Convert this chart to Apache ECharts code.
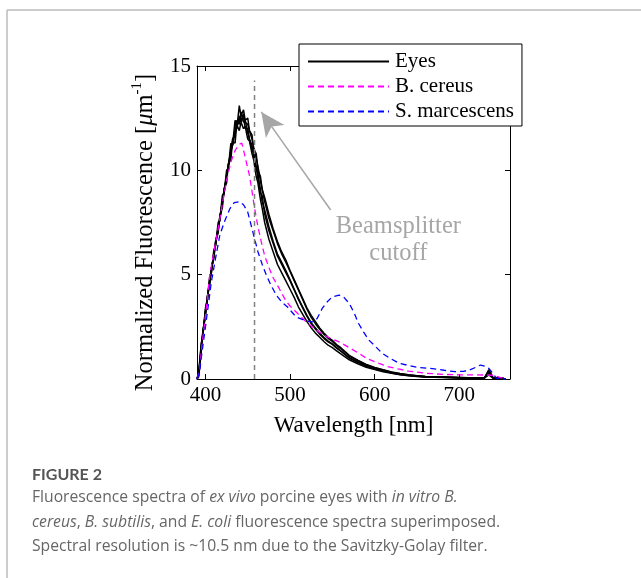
<!DOCTYPE html>
<html>
<head>
<meta charset="utf-8">
<script src="https://cdn.jsdelivr.net/npm/echarts@6/dist/echarts.min.js"></script>
<style>
  html, body { margin: 0; padding: 0; background: #fff; }
  #chart { width: 641px; height: 578px; }
</style>
</head>
<body>
<div id="chart"></div>
<script>
// wavelength grid for the eye spectra [nm]
const eyeWl = [390,392,395,397,400,402,405,407,410,412,415,417,420,422,425,427,430,432,435,437,440,442,445,447,450,452,455,457,460,462,465,467,470,475,480,485,490,495,500,505,510,515,520,525,530,535,540,545,550,555,560,570,580,590,600,610,620,630,640,650,660,670,680,690,700,710,720,730,735,740,750,755];
// five porcine eyes
const eyeA = [0,0.3,1.7,2.1,3.4,3.7,4.9,5.1,6.2,6.4,7.5,7.6,8.8,8.9,10.0,10.1,11.3,11.2,12.4,12.0,13.1,12.6,12.9,12.4,12.5,11.9,11.7,11.0,10.8,10.0,9.7,9.1,8.7,7.9,7.2,6.6,6.1,5.7,5.2,4.75,4.3,3.85,3.4,3.05,2.75,2.45,2.2,2.0,1.85,1.65,1.5,1.13,0.9,0.7,0.55,0.44,0.34,0.26,0.2,0.16,0.12,0.1,0.09,0.08,0.07,0.06,0.06,0.07,0.45,0.06,0.05,0];
const eyeB = [0,0.1,1.3,2.3,3.0,3.9,4.5,5.3,5.8,6.6,7.0,7.8,8.2,9.1,9.4,10.3,10.5,11.4,11.3,12.2,11.9,12.3,12.0,12.1,11.5,11.4,10.8,10.5,9.7,9.4,8.6,8.2,7.5,6.7,6.1,5.5,5.1,4.7,4.3,3.9,3.45,3.1,2.75,2.45,2.2,2.0,1.8,1.62,1.5,1.35,1.2,0.92,0.73,0.56,0.45,0.35,0.27,0.2,0.16,0.12,0.1,0.08,0.07,0.06,0.05,0.04,0.04,0.05,0.2,0.04,0.03,0];
const eyeC = [0,0.2,1.6,2.3,3.1,3.9,4.6,5.3,5.9,6.6,7.1,7.8,8.4,9.1,9.6,10.3,10.8,11.5,11.7,12.4,12.2,12.8,12.3,12.4,11.8,11.8,11.0,10.9,10.0,9.9,8.9,8.8,7.9,7.1,6.5,5.9,5.5,5.1,4.7,4.25,3.8,3.4,3.0,2.65,2.4,2.15,1.95,1.78,1.66,1.48,1.33,1.0,0.8,0.62,0.49,0.39,0.29,0.22,0.17,0.13,0.1,0.09,0.08,0.07,0.06,0.05,0.05,0.06,0.35,0.05,0.04,0];
const eyeD = [0,0.3,1.4,2.1,3.3,3.7,4.8,5.1,6.1,6.4,7.3,7.6,8.6,8.9,9.8,10.1,11.0,11.2,11.9,12.0,12.6,12.4,12.7,12.3,12.2,11.9,11.5,11.1,10.6,10.2,9.5,9.1,8.5,7.7,7.1,6.5,6.0,5.6,5.15,4.7,4.25,3.8,3.35,2.95,2.65,2.38,2.15,1.95,1.8,1.6,1.45,1.1,0.88,0.68,0.54,0.43,0.32,0.25,0.19,0.15,0.12,0.1,0.09,0.08,0.07,0.06,0.06,0.07,0.4,0.05,0.04,0];
const eyeE = [0,0.2,1.5,2.2,3.2,3.8,4.7,5.2,6.0,6.5,7.2,7.7,8.5,9.0,9.7,10.2,10.9,11.2,11.9,11.9,12.5,12.3,12.6,12.0,12.0,11.5,11.2,10.6,10.2,9.6,9.1,8.5,8.1,7.3,6.6,6.0,5.6,5.2,4.75,4.3,3.85,3.45,3.05,2.7,2.45,2.2,2.0,1.82,1.68,1.5,1.35,1.02,0.82,0.63,0.5,0.4,0.3,0.23,0.18,0.14,0.11,0.09,0.08,0.07,0.06,0.05,0.05,0.06,0.3,0.05,0.04,0];

// B. cereus
const cereusWl = [390,393,395,400,405,410,415,420,425,430,435,440,443,446,450,452,455,458,462,466,470,475,480,487,495,500,511,520,534,545,558,570,581,590,605,615,628,640,660,680,700,720,740,748,755];
const cereusVal = [0,0.4,1.3,3.0,4.97,6.1,7.2,8.4,9.5,10.4,10.95,11.25,11.3,10.8,10.1,9.76,9.0,8.2,7.3,6.57,5.9,5.35,4.85,4.35,3.75,3.5,3.06,2.7,2.26,2.0,1.78,1.5,1.24,1.0,0.75,0.6,0.48,0.38,0.28,0.22,0.2,0.2,0.18,0.08,0];

// S. marcescens
const marcWl = [390,393,395,400,407,412,417,423,429,434,440,445,450,456,462,467,472,478,484,490,497,507,515,522,527,532,538,544,550,558,564,570,576,581,587,593,600,609,618,629,640,652,668,682,695,705,712,719,725,730,735,740,744,750,755];
const marcVal = [0,0.3,1.0,2.5,4.66,5.8,6.9,7.6,8.17,8.45,8.5,8.35,8.0,7.05,6.1,5.5,4.97,4.45,4.0,3.7,3.45,2.98,2.85,2.76,2.74,2.9,3.38,3.7,3.94,4.02,3.9,3.62,3.15,2.66,2.25,1.87,1.6,1.23,1.0,0.75,0.65,0.55,0.5,0.42,0.35,0.37,0.43,0.55,0.67,0.62,0.51,0.25,0.03,0,0];

// beamsplitter cutoff annotation
const cutoffLine = [[458, 0], [458, 14.3]];
const arrowFrom = [548, 8.1];
const arrowTo = [466, 12.8];
const cutoffTextAt = [628, 6.65];

const xTicks = [400, 500, 600, 700];
const serif = 'Liberation Serif';

const pairs = (xs, ys) => xs.map((x, i) => [x, ys[i]]);

const eyeSeries = [eyeA, eyeB, eyeC, eyeD, eyeE].map(v => ({
  name: 'Eyes',
  type: 'line',
  data: pairs(eyeWl, v),
  symbol: 'none',
  color: '#000',
  lineStyle: { color: '#000', width: 1.5 },
  z: 2
}));

const chart = echarts.init(document.getElementById('chart'));

const tickX = {
  show: true, inside: true, length: 5,
  customValues: xTicks,
  lineStyle: { color: '#000' }
};

const capRich = {
  n: { fontFamily: 'Open Sans', fontSize: 15.7, fill: '#666' },
  i: { fontFamily: 'Open Sans', fontSize: 15.7, fontStyle: 'italic', fill: '#666' }
};

chart.setOption({
  animation: false,
  backgroundColor: '#fff',
  grid: { left: 197, right: 131, top: 66, bottom: 199 },
  legend: {
    data: ['Eyes', 'B. cereus', 'S. marcescens'],
    orient: 'vertical',
    left: 299,
    top: 44,
    padding: [7, 8, 4, 8],
    itemGap: 4,
    itemWidth: 81,
    itemHeight: 14,
    itemStyle: { opacity: 0 },
    backgroundColor: '#fff',
    borderColor: '#000',
    borderWidth: 1,
    textStyle: { fontFamily: serif, fontSize: 21, color: '#000', lineHeight: 20, padding: [0, 0, 0, 1] },
    z: 10
  },
  xAxis: [
    {
      type: 'value', min: 390, max: 760,
      axisLine: { show: true, onZero: false, lineStyle: { color: '#000', width: 1 } },
      axisTick: tickX,
      axisLabel: { customValues: xTicks, color: '#000', fontFamily: serif, fontSize: 21, margin: 6 },
      splitLine: { show: false },
      name: 'Wavelength [nm]',
      nameLocation: 'middle',
      nameGap: 35,
      nameTextStyle: { fontFamily: serif, fontSize: 23, color: '#000' }
    },
    {
      type: 'value', min: 390, max: 760, position: 'top',
      axisLine: { show: true, onZero: false, lineStyle: { color: '#000', width: 1 } },
      axisTick: tickX,
      axisLabel: { show: false },
      splitLine: { show: false }
    }
  ],
  yAxis: [
    {
      type: 'value', min: 0, max: 15, interval: 5,
      axisLine: { show: true, onZero: false, lineStyle: { color: '#000', width: 1 } },
      axisTick: { show: true, inside: true, length: 5, lineStyle: { color: '#000' } },
      axisLabel: { color: '#000', fontFamily: serif, fontSize: 21, margin: 6 },
      splitLine: { show: false },
      name: '{a|Normalized Fluorescence [}{i|μ}{a|m}{s|-1}{a|]}',
      nameLocation: 'middle',
      nameGap: 39,
      nameTextStyle: {
        padding: [0, 20, 0, 0],
        rich: {
          a: { fontFamily: serif, fontSize: 24.5, color: '#000', lineHeight: 28, verticalAlign: 'bottom' },
          i: { fontFamily: serif, fontSize: 24.5, fontStyle: 'italic', color: '#000', lineHeight: 28, verticalAlign: 'bottom' },
          s: { fontFamily: serif, fontSize: 15, color: '#000', lineHeight: 28, verticalAlign: 'top' }
        }
      }
    },
    {
      type: 'value', min: 0, max: 15, interval: 5, position: 'right',
      axisLine: { show: true, onZero: false, lineStyle: { color: '#000', width: 1 } },
      axisTick: { show: true, inside: true, length: 5, lineStyle: { color: '#000' } },
      axisLabel: { show: false },
      splitLine: { show: false }
    }
  ],
  series: [
    ...eyeSeries,
    {
      name: 'B. cereus',
      type: 'line',
      data: pairs(cereusWl, cereusVal),
      symbol: 'none',
      color: '#ff00ff',
      lineStyle: { color: '#ff00ff', width: 1.3, type: [6, 4] },
      z: 3
    },
    {
      name: 'S. marcescens',
      type: 'line',
      data: pairs(marcWl, marcVal),
      symbol: 'none',
      color: '#0000ff',
      lineStyle: { color: '#0000ff', width: 1.3, type: [6, 4] },
      z: 4
    },
    {
      type: 'line',
      data: cutoffLine,
      symbol: 'none',
      lineStyle: { color: '#808080', width: 1.5, type: [5, 4] },
      z: 5,
      silent: true,
      markLine: {
        silent: true,
        symbol: ['none', 'arrow'],
        symbolSize: [17, 24],
        label: { show: false },
        lineStyle: { color: '#a6a6a6', width: 1.5, type: 'solid' },
        data: [[{ coord: arrowFrom }, { coord: arrowTo }]]
      },
      markPoint: {
        silent: true,
        symbol: 'circle',
        symbolSize: 0,
        label: {
          show: true,
          position: 'inside',
          formatter: 'Beamsplitter\ncutoff',
          fontFamily: serif,
          fontSize: 24.5,
          lineHeight: 27,
          color: '#a6a6a6',
          align: 'center'
        },
        data: [{ coord: cutoffTextAt }]
      }
    }
  ],
  graphic: [
    { type: 'line', shape: { x1: 7, y1: 10, x2: 641, y2: 10 }, style: { stroke: '#bdbdbd', lineWidth: 1.5 } },
    { type: 'line', shape: { x1: 7, y1: 10, x2: 7, y2: 578 }, style: { stroke: '#bdbdbd', lineWidth: 1.5 } },
    { type: 'text', left: 32, top: 467, style: { text: 'FIGURE 2', fontFamily: 'Lato', fontWeight: 'bold', fontSize: 16, fill: '#555' } },
    {
      type: 'text', left: 32, top: 490,
      style: { text: '{n|Fluorescence spectra of }{i|ex vivo}{n| porcine eyes with }{i|in vitro B.}', rich: capRich }
    },
    {
      type: 'text', left: 32, top: 514.5,
      style: { text: '{i|cereus}{n|, }{i|B. subtilis}{n|, and }{i|E. coli}{n| fluorescence spectra superimposed.}', rich: capRich }
    },
    {
      type: 'text', left: 32, top: 539,
      style: { text: '{n|Spectral resolution is ~10.5 nm due to the Savitzky-Golay filter.}', rich: capRich }
    }
  ]
});
</script>
</body>
</html>
